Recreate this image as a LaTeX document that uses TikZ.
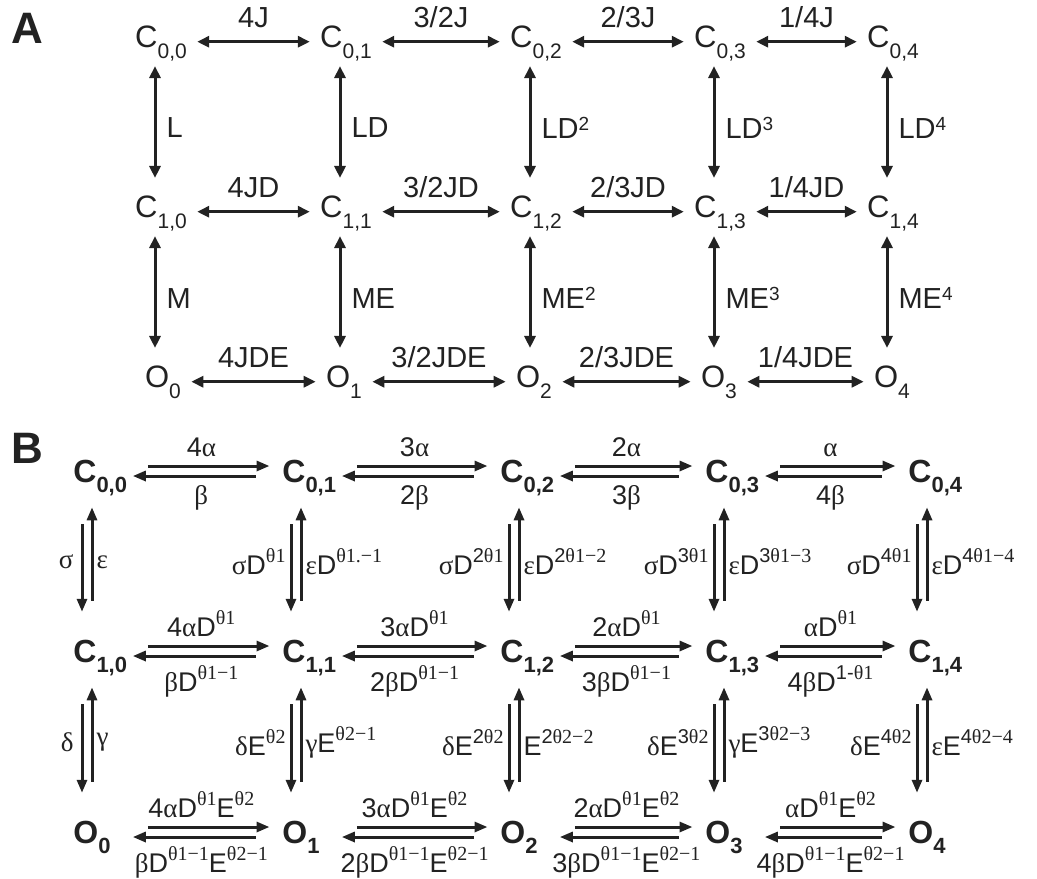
\documentclass[tikz,border=0pt]{standalone}
\usepackage{fontspec}
\setmainfont{Liberation Sans}
\newfontfamily\grk{Liberation Serif}
\usetikzlibrary{arrows.meta,positioning}
\definecolor{ink}{HTML}{222222}
\newcommand\subA[1]{\raisebox{-5.5pt}{\fontsize{10.5}{12}\selectfont#1}}
\newcommand\supA[1]{\raisebox{4pt}{\fontsize{9.5}{10}\selectfont#1}}
\newcommand\subB[1]{\raisebox{-5pt}{\fontsize{11}{12}\selectfont\bfseries#1}}
\newcommand\supB[1]{\raisebox{6pt}{\fontsize{10}{11}\selectfont#1}}
\newcommand\srf[1]{{\grk#1}}
\newcommand\tone{\srf{θ1}}
\newcommand\ttwo{\srf{θ2}}

\tikzset{
  panel/.style={anchor=base west, inner sep=0pt, font=\fontsize{22}{26}\selectfont\bfseries},
  stateA/.style={anchor=base, inner sep=0pt, font=\fontsize{15.5}{18}\selectfont},
  rateA/.style={inner sep=0pt, font=\fontsize{14.5}{17}\selectfont},
  harrA/.style={<->, line width=1.5pt, shorten <=5pt, shorten >=5pt},
  varrA/.style={<->, line width=1.5pt, shorten <=2.5pt, shorten >=8.5pt},
  stateB/.style={anchor=base west, inner sep=0pt, text width=28pt, align=left,
    font=\fontsize{16}{19}\selectfont\bfseries},
  rateB/.style={inner sep=0pt, font=\fontsize{13.5}{16}\selectfont},
  tipB/.style={>={Triangle[length=6.5pt,width=5pt]}},
  fwdB/.style={tipB, ->, line width=1.5pt, shorten <=9pt, shorten >=6.25pt},
  bwdB/.style={tipB, <-, line width=1.5pt, shorten <=1.5pt, shorten >=13pt},
  downB/.style={tipB, ->, line width=1.5pt, shorten <=14.25pt, shorten >=13.75pt},
  upB/.style={tipB, <-, line width=1.5pt, shorten <=5.75pt, shorten >=19pt}
}

\begin{document}
\begin{tikzpicture}[x=0.5pt,y=-0.5pt,color=ink,>={Triangle[length=6pt,width=5.5pt]}]
\useasboundingbox (0,0) rectangle (1037,878);

% panel A
\node[panel] (pa) at (11,43) {A};

\node[stateA] (a00) at (161,47) {C\subA{0,0}};
\node[stateA] (a01) at (346,47) {C\subA{0,1}};
\node[stateA] (a02) at (536,47) {C\subA{0,2}};
\node[stateA] (a03) at (720,47) {C\subA{0,3}};
\node[stateA] (a04) at (893,47) {C\subA{0,4}};
\node[stateA] (a10) at (161,217) {C\subA{1,0}};
\node[stateA] (a11) at (346,217) {C\subA{1,1}};
\node[stateA] (a12) at (536,217) {C\subA{1,2}};
\node[stateA] (a13) at (720,217) {C\subA{1,3}};
\node[stateA] (a14) at (893,217) {C\subA{1,4}};
\node[stateA] (a20) at (163,387) {O\subA{0}};
\node[stateA] (a21) at (344,387) {O\subA{1}};
\node[stateA] (a22) at (534,387) {O\subA{2}};
\node[stateA] (a23) at (719,387) {O\subA{3}};
\node[stateA] (a24) at (892,387) {O\subA{4}};

\draw[harrA] (a00.mid east) -- (a01.mid west) node[rateA,midway,above=6pt] {4J};
\draw[harrA] (a01.mid east) -- (a02.mid west) node[rateA,midway,above=6pt] {3/2J};
\draw[harrA] (a02.mid east) -- (a03.mid west) node[rateA,midway,above=6pt] {2/3J};
\draw[harrA] (a03.mid east) -- (a04.mid west) node[rateA,midway,above=6pt] {1/4J};
\draw[harrA] (a10.mid east) -- (a11.mid west) node[rateA,midway,above=6pt] {4JD};
\draw[harrA] (a11.mid east) -- (a12.mid west) node[rateA,midway,above=6pt] {3/2JD};
\draw[harrA] (a12.mid east) -- (a13.mid west) node[rateA,midway,above=6pt] {2/3JD};
\draw[harrA] (a13.mid east) -- (a14.mid west) node[rateA,midway,above=6pt] {1/4JD};
\draw[harrA] (a20.mid east) -- (a21.mid west) node[rateA,midway,above=6pt] {4JDE};
\draw[harrA] (a21.mid east) -- (a22.mid west) node[rateA,midway,above=6pt] {3/2JDE};
\draw[harrA] (a22.mid east) -- (a23.mid west) node[rateA,midway,above=6pt] {2/3JDE};
\draw[harrA] (a23.mid east) -- (a24.mid west) node[rateA,midway,above=6pt] {1/4JDE};

\draw[varrA] ([xshift=-3pt]a00.south) -- ([xshift=-3pt]a10.north) node[rateA,midway,right=5pt] {L};
\draw[varrA] ([xshift=-3pt]a01.south) -- ([xshift=-3pt]a11.north) node[rateA,midway,right=5pt] {LD};
\draw[varrA] ([xshift=-3pt]a02.south) -- ([xshift=-3pt]a12.north) node[rateA,midway,right=5pt] {LD\supA{2}};
\draw[varrA] ([xshift=-3pt]a03.south) -- ([xshift=-3pt]a13.north) node[rateA,midway,right=5pt] {LD\supA{3}};
\draw[varrA] ([xshift=-3pt]a04.south) -- ([xshift=-3pt]a14.north) node[rateA,midway,right=5pt] {LD\supA{4}};
\draw[varrA] ([xshift=-3pt]a10.south) -- ([xshift=-3pt]a10.south |- a20.north) node[rateA,midway,right=5pt] {M};
\draw[varrA] ([xshift=-3pt]a11.south) -- ([xshift=-3pt]a11.south |- a21.north) node[rateA,midway,right=5pt] {ME};
\draw[varrA] ([xshift=-3pt]a12.south) -- ([xshift=-3pt]a12.south |- a22.north) node[rateA,midway,right=5pt] {ME\supA{2}};
\draw[varrA] ([xshift=-3pt]a13.south) -- ([xshift=-3pt]a13.south |- a23.north) node[rateA,midway,right=5pt] {ME\supA{3}};
\draw[varrA] ([xshift=-3pt]a14.south) -- ([xshift=-3pt]a14.south |- a24.north) node[rateA,midway,right=5pt] {ME\supA{4}};

% panel B
\node[panel] (pb) at (11,463) {B};

\node[stateB] (b00) at (73,482) {C\subB{0,0}};
\node[stateB] (b01) at (282,482) {C\subB{0,1}};
\node[stateB] (b02) at (500,482) {C\subB{0,2}};
\node[stateB] (b03) at (705,482) {C\subB{0,3}};
\node[stateB] (b04) at (908,482) {C\subB{0,4}};
\node[stateB] (b10) at (73,662) {C\subB{1,0}};
\node[stateB] (b11) at (282,662) {C\subB{1,1}};
\node[stateB] (b12) at (500,662) {C\subB{1,2}};
\node[stateB] (b13) at (705,662) {C\subB{1,3}};
\node[stateB] (b14) at (908,662) {C\subB{1,4}};
\node[stateB] (b20) at (73,843) {O\subB{0}};
\node[stateB] (b21) at (282,843) {O\subB{1}};
\node[stateB] (b22) at (500,843) {O\subB{2}};
\node[stateB] (b23) at (705,843) {O\subB{3}};
\node[stateB] (b24) at (908,843) {O\subB{4}};

% forward and backward steps
\draw[fwdB] ([yshift=8pt]b00.base east) -- ([yshift=8pt]b01.base west) node[rateB,pos=0.47,above=4pt] {4\srf{α}};
\draw[bwdB] ([yshift=3pt]b00.base east) -- ([yshift=3pt]b01.base west) node[rateB,pos=0.47,below=4pt] {\srf{β}};
\draw[fwdB] ([yshift=8pt]b01.base east) -- ([yshift=8pt]b02.base west) node[rateB,pos=0.47,above=4pt] {3\srf{α}};
\draw[bwdB] ([yshift=3pt]b01.base east) -- ([yshift=3pt]b02.base west) node[rateB,pos=0.47,below=4pt] {2\srf{β}};
\draw[fwdB] ([yshift=8pt]b02.base east) -- ([yshift=8pt]b03.base west) node[rateB,pos=0.47,above=4pt] {2\srf{α}};
\draw[bwdB] ([yshift=3pt]b02.base east) -- ([yshift=3pt]b03.base west) node[rateB,pos=0.47,below=4pt] {3\srf{β}};
\draw[fwdB] ([yshift=8pt]b03.base east) -- ([yshift=8pt]b04.base west) node[rateB,pos=0.47,above=4pt] {\srf{α}};
\draw[bwdB] ([yshift=3pt]b03.base east) -- ([yshift=3pt]b04.base west) node[rateB,pos=0.47,below=4pt] {4\srf{β}};

\draw[fwdB] ([yshift=8pt]b10.base east) -- ([yshift=8pt]b11.base west) node[rateB,pos=0.47,above=4pt] {4\srf{α}D\supB{\tone}};
\draw[bwdB] ([yshift=3pt]b10.base east) -- ([yshift=3pt]b11.base west) node[rateB,pos=0.47,below=4pt] {\srf{β}D\supB{\srf{θ1−1}}};
\draw[fwdB] ([yshift=8pt]b11.base east) -- ([yshift=8pt]b12.base west) node[rateB,pos=0.47,above=4pt] {3\srf{α}D\supB{\tone}};
\draw[bwdB] ([yshift=3pt]b11.base east) -- ([yshift=3pt]b12.base west) node[rateB,pos=0.47,below=4pt] {2\srf{β}D\supB{\srf{θ1−1}}};
\draw[fwdB] ([yshift=8pt]b12.base east) -- ([yshift=8pt]b13.base west) node[rateB,pos=0.47,above=4pt] {2\srf{α}D\supB{\tone}};
\draw[bwdB] ([yshift=3pt]b12.base east) -- ([yshift=3pt]b13.base west) node[rateB,pos=0.47,below=4pt] {3\srf{β}D\supB{\srf{θ1−1}}};
\draw[fwdB] ([yshift=8pt]b13.base east) -- ([yshift=8pt]b14.base west) node[rateB,pos=0.47,above=4pt] {\srf{α}D\supB{\tone}};
\draw[bwdB] ([yshift=3pt]b13.base east) -- ([yshift=3pt]b14.base west) node[rateB,pos=0.47,below=4pt] {4\srf{β}D\supB{1-\tone}};

\draw[fwdB] ([yshift=8pt]b20.base east) -- ([yshift=8pt]b21.base west) node[rateB,pos=0.47,above=4pt] {4\srf{α}D\supB{\tone}E\supB{\ttwo}};
\draw[bwdB] ([yshift=3pt]b20.base east) -- ([yshift=3pt]b21.base west) node[rateB,pos=0.47,below=4pt] {\srf{β}D\supB{\srf{θ1−1}}E\supB{\srf{θ2−1}}};
\draw[fwdB] ([yshift=8pt]b21.base east) -- ([yshift=8pt]b22.base west) node[rateB,pos=0.47,above=4pt] {3\srf{α}D\supB{\tone}E\supB{\ttwo}};
\draw[bwdB] ([yshift=3pt]b21.base east) -- ([yshift=3pt]b22.base west) node[rateB,pos=0.47,below=4pt] {2\srf{β}D\supB{\srf{θ1−1}}E\supB{\srf{θ2−1}}};
\draw[fwdB] ([yshift=8pt]b22.base east) -- ([yshift=8pt]b23.base west) node[rateB,pos=0.47,above=4pt] {2\srf{α}D\supB{\tone}E\supB{\ttwo}};
\draw[bwdB] ([yshift=3pt]b22.base east) -- ([yshift=3pt]b23.base west) node[rateB,pos=0.47,below=4pt] {3\srf{β}D\supB{\srf{θ1−1}}E\supB{\srf{θ2−1}}};
\draw[fwdB] ([yshift=8pt]b23.base east) -- ([yshift=8pt]b24.base west) node[rateB,pos=0.47,above=4pt] {\srf{α}D\supB{\tone}E\supB{\ttwo}};
\draw[bwdB] ([yshift=3pt]b23.base east) -- ([yshift=3pt]b24.base west) node[rateB,pos=0.47,below=4pt] {4\srf{β}D\supB{\srf{θ1−1}}E\supB{\srf{θ2−1}}};

% closing and opening steps
\draw[downB] ([xshift=4.5pt]b00.south west) -- ([xshift=4.5pt]b10.north west) node[rateB,pos=0.46,left=3.5pt] {\srf{σ}};
\draw[upB] ([xshift=9.5pt]b00.south west) -- ([xshift=9.5pt]b10.north west) node[rateB,pos=0.46,right=1.5pt] {\srf{ε}};
\draw[downB] ([xshift=4.5pt]b01.south west) -- ([xshift=4.5pt]b11.north west) node[rateB,pos=0.46,left=2pt] {\srf{σ}D\supB{\tone}};
\draw[upB] ([xshift=9.5pt]b01.south west) -- ([xshift=9.5pt]b11.north west) node[rateB,pos=0.46,right=1.5pt] {\srf{ε}D\supB{\srf{θ1.−1}}};
\draw[downB] ([xshift=4.5pt]b02.south west) -- ([xshift=4.5pt]b12.north west) node[rateB,pos=0.46,left=2pt] {\srf{σ}D\supB{2\tone}};
\draw[upB] ([xshift=9.5pt]b02.south west) -- ([xshift=9.5pt]b12.north west) node[rateB,pos=0.46,right=1.5pt] {\srf{ε}D\supB{2\srf{θ1−2}}};
\draw[downB] ([xshift=4.5pt]b03.south west) -- ([xshift=4.5pt]b13.north west) node[rateB,pos=0.46,left=2pt] {\srf{σ}D\supB{3\tone}};
\draw[upB] ([xshift=9.5pt]b03.south west) -- ([xshift=9.5pt]b13.north west) node[rateB,pos=0.46,right=1.5pt] {\srf{ε}D\supB{3\srf{θ1−3}}};
\draw[downB] ([xshift=4.5pt]b04.south west) -- ([xshift=4.5pt]b14.north west) node[rateB,pos=0.46,left=2pt] {\srf{σ}D\supB{4\tone}};
\draw[upB] ([xshift=9.5pt]b04.south west) -- ([xshift=9.5pt]b14.north west) node[rateB,pos=0.46,right=1.5pt] {\srf{ε}D\supB{4\srf{θ1−4}}};

\draw[downB] ([xshift=4.5pt]b10.south west) -- ([xshift=4.5pt]b20.north west) node[rateB,pos=0.46,left=3.5pt] {\srf{δ}};
\draw[upB] ([xshift=9.5pt]b10.south west) -- ([xshift=9.5pt]b20.north west) node[rateB,pos=0.46,right=1.5pt] {\srf{γ}};
\draw[downB] ([xshift=4.5pt]b11.south west) -- ([xshift=4.5pt]b21.north west) node[rateB,pos=0.46,left=2pt] {\srf{δ}E\supB{\ttwo}};
\draw[upB] ([xshift=9.5pt]b11.south west) -- ([xshift=9.5pt]b21.north west) node[rateB,pos=0.46,right=1.5pt] {\srf{γ}E\supB{\srf{θ2−1}}};
\draw[downB] ([xshift=4.5pt]b12.south west) -- ([xshift=4.5pt]b22.north west) node[rateB,pos=0.46,left=2pt] {\srf{δ}E\supB{2\ttwo}};
\draw[upB] ([xshift=9.5pt]b12.south west) -- ([xshift=9.5pt]b22.north west) node[rateB,pos=0.46,right=1.5pt] {E\supB{2\srf{θ2−2}}};
\draw[downB] ([xshift=4.5pt]b13.south west) -- ([xshift=4.5pt]b23.north west) node[rateB,pos=0.46,left=2pt] {\srf{δ}E\supB{3\ttwo}};
\draw[upB] ([xshift=9.5pt]b13.south west) -- ([xshift=9.5pt]b23.north west) node[rateB,pos=0.46,right=1.5pt] {\srf{γ}E\supB{3\srf{θ2−3}}};
\draw[downB] ([xshift=4.5pt]b14.south west) -- ([xshift=4.5pt]b24.north west) node[rateB,pos=0.46,left=2pt] {\srf{δ}E\supB{4\ttwo}};
\draw[upB] ([xshift=9.5pt]b14.south west) -- ([xshift=9.5pt]b24.north west) node[rateB,pos=0.46,right=1.5pt] {\srf{ε}E\supB{4\srf{θ2−4}}};
\end{tikzpicture}
\end{document}
